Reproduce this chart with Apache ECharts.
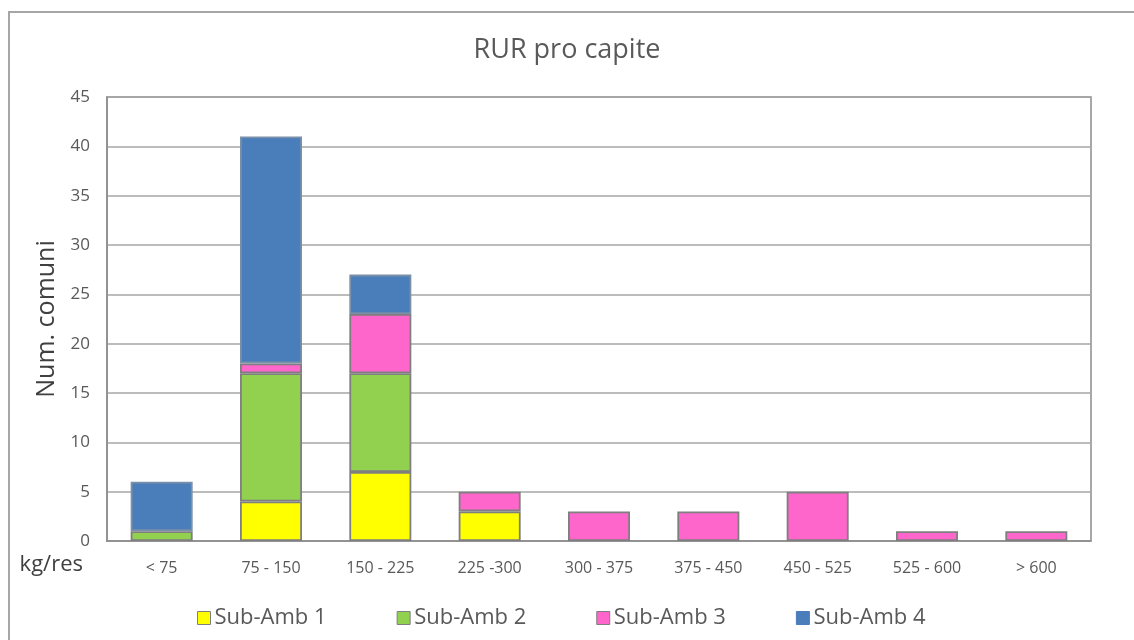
<!DOCTYPE html>
<html>
<head>
<meta charset="utf-8">
<script src="https://cdn.jsdelivr.net/npm/echarts@6/dist/echarts.min.js"></script>
<style>
  html, body { margin: 0; padding: 0; background: #fff; }
  #main { width: 1134px; height: 640px; }
</style>
</head>
<body>
<div id="main"></div>
<script>
// categorie (fasce kg/res)
const categories = ['< 75', '75 - 150', '150 - 225', '225 -300', '300 - 375', '375 - 450', '450 - 525', '525 - 600', '> 600'];
// numero di comuni per sub-ambito
const subAmb1 = [0, 4, 7, 3, 0, 0, 0, 0, 0];
const subAmb2 = [1, 13, 10, 0, 0, 0, 0, 0, 0];
const subAmb3 = [0, 1, 6, 2, 3, 3, 5, 1, 1];
const subAmb4 = [5, 23, 4, 0, 0, 0, 0, 0, 0];
const seriesNames = ['Sub-Amb 1', 'Sub-Amb 2', 'Sub-Amb 3', 'Sub-Amb 4'];
const colors = ['#FFFF00', '#92D050', '#FF66CC', '#4A7EBB'];

const font = '"Open Sans", "Liberation Sans", sans-serif';
const chart = echarts.init(document.getElementById('main'));

const makeSeries = (name, data, color, border) => ({
  name: name,
  type: 'bar',
  stack: 'tot',
  barWidth: 62,
  data: data.map(v => (v === 0 ? null : v)),
  itemStyle: { color: color, borderColor: border, borderWidth: 1.8 }
});

const option = {
  animation: false,
  color: colors,
  title: {
    text: 'RUR pro capite',
    left: 'center',
    top: 32,
    textStyle: { fontFamily: font, fontSize: 27, fontWeight: 'normal', color: '#595959' }
  },
  legend: {
    bottom: 6,
    left: 192,
    itemWidth: 13,
    itemHeight: 13,
    itemGap: 70,
    icon: 'rect',
    textStyle: { fontFamily: font, fontSize: 22, color: '#595959', padding: [0, 0, 0, -1] },
    data: seriesNames.map((n, i) => ({
      name: n,
      itemStyle: { color: colors[i], borderColor: i === 3 ? colors[3] : '#7f7f7f', borderWidth: 1 }
    }))
  },
  grid: { left: 107, right: 43, top: 97, bottom: 99, show: true, borderColor: '#8c8c8c', borderWidth: 1.5 },
  xAxis: {
    type: 'category',
    data: categories,
    name: 'kg/res',
    nameLocation: 'start',
    nameGap: 24,
    nameTextStyle: { fontFamily: font, fontSize: 22, color: '#404040', verticalAlign: 'top', padding: [13, 0, 0, 0] },
    axisLine: { lineStyle: { color: '#8c8c8c', width: 1.5 } },
    axisTick: { show: false },
    axisLabel: { fontFamily: font, fontSize: 16, color: '#595959', margin: 19 }
  },
  yAxis: {
    type: 'value',
    min: 0,
    max: 45,
    interval: 5,
    name: 'Num. comuni',
    nameLocation: 'middle',
    nameGap: 48,
    nameTextStyle: { fontFamily: font, fontSize: 25, color: '#404040' },
    axisLine: { show: true, lineStyle: { color: '#8c8c8c', width: 1.5 } },
    axisLabel: { fontFamily: font, fontSize: 17, color: '#595959', margin: 17 },
    splitLine: { lineStyle: { color: '#a6a6a6', width: 1.5 } }
  },
  graphic: [{
    type: 'rect',
    silent: true,
    z: -1,
    shape: { x: 9, y: 12, width: 1140, height: 640 },
    style: { fill: 'none', stroke: '#a6a6a6', lineWidth: 2 }
  }],
  series: [
    makeSeries(seriesNames[0], subAmb1, colors[0], '#7f7f7f'),
    makeSeries(seriesNames[1], subAmb2, colors[1], '#7f7f7f'),
    makeSeries(seriesNames[2], subAmb3, colors[2], '#7f7f7f'),
    makeSeries(seriesNames[3], subAmb4, colors[3], '#7a8fa8')
  ]
};

chart.setOption(option);
</script>
</body>
</html>
